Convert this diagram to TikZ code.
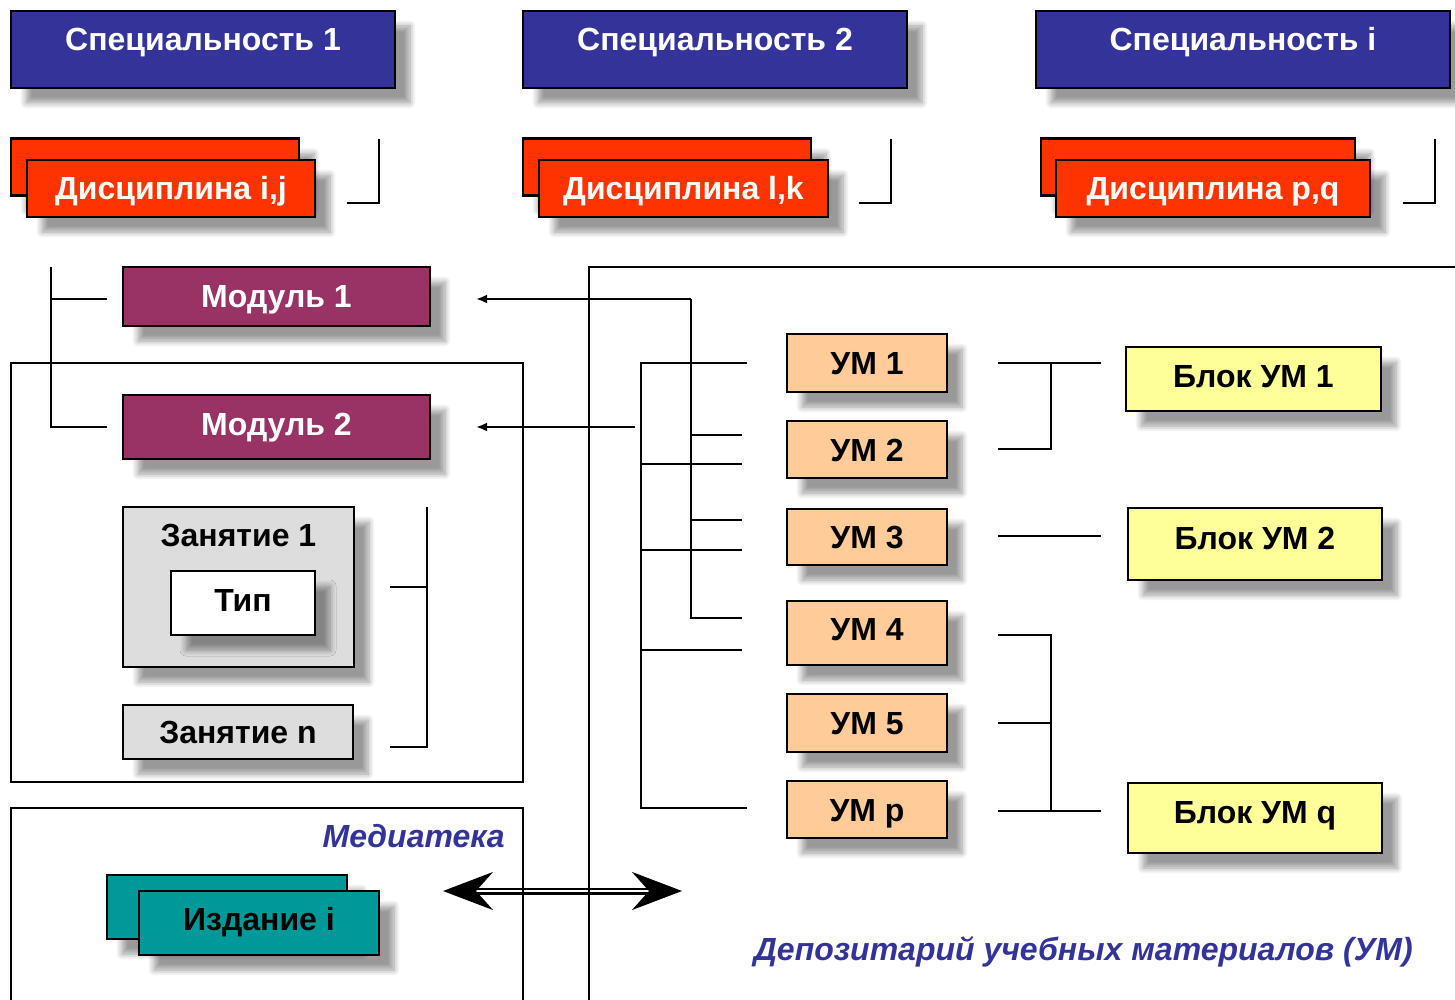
\documentclass[tikz,border=0pt]{standalone}
\usepackage{fontspec}
\setmainfont{Liberation Sans}
\usetikzlibrary{arrows.meta,shadows.blur}
\definecolor{specblue}{HTML}{333399}
\definecolor{discred}{HTML}{FF3300}
\definecolor{modpurple}{HTML}{993366}
\definecolor{lessgray}{HTML}{DDDDDD}
\definecolor{umorange}{HTML}{FFCC99}
\definecolor{blockyellow}{HTML}{FFFF99}
\definecolor{edteal}{HTML}{009999}
\tikzset{
  unitbox/.style={draw, line width=2.2pt, inner sep=0pt,
    font=\fontsize{32}{38}\selectfont\bfseries, text height=23pt, text depth=0pt,
    blur shadow={shadow xshift=15pt, shadow yshift=-15pt,
      shadow blur radius=6pt, shadow blur steps=8}},
  specbox/.style={unitbox, fill=specblue, text=white, minimum height=77pt, text depth=20pt},
  discbox/.style={unitbox, fill=discred, text=white, minimum height=57pt},
  modbox/.style={unitbox, fill=modpurple, text=white, minimum width=307pt},
  lessonbox/.style={unitbox, fill=lessgray},
  umbox/.style={unitbox, fill=umorange, minimum width=160pt},
  blockbox/.style={unitbox, fill=blockyellow, text depth=13pt},
  edbox/.style={unitbox, fill=edteal, minimum width=240pt, minimum height=64pt, text depth=8pt},
  link/.style={line width=2pt},
  arr/.style={link, -{Latex[length=11pt,width=9pt]}, shorten >=45pt},
  exchange/.style={line width=2.5pt, double=white, double distance=2pt,
    {Stealth[length=50pt,width=38pt,inset=17pt]}-{Stealth[length=50pt,width=38pt,inset=17pt]}},
  caption/.style={font=\fontsize{32}{38}\selectfont\bfseries\itshape, text=specblue, inner sep=0pt},
}
\begin{document}
\begin{tikzpicture}[x=1pt, y=-1pt]
  \useasboundingbox (0,0) rectangle (1455,1000);
  % exchange media library <-> depository
  \coordinate (xl) at (443,891);
  \coordinate (xr) at (682,891);
  \draw[exchange] (xl) -- (xr);
  % frames
  \draw[link] (11,363) rectangle (523,782);
  \draw[link] (11,1000) |- (523,808) -- (523,1000);
  \draw[link] (589,1000) |- (1455,267);
  \node[caption, anchor=east] (medtitle) at (505,836) {Медиатека};
  \node[caption, anchor=east] (deptitle) at (1413,952) {Депозитарий учебных материалов (УМ)};
  % specialities
  \node[specbox, minimum width=384pt] (sp1) at (203,49.5) {Специальность 1};
  \node[specbox, minimum width=384pt] (sp2) at (715,49.5) {Специальность 2};
  \node[specbox, minimum width=414pt] (spi) at (1243,49.5) {Специальность i};
  % disciplines, two sheets each
  \node[discbox, minimum width=288pt] (d1b) at (155,167) {};
  \node[discbox, minimum width=288pt] (d1) at (171,188.5) {Дисциплина i,j};
  \node[discbox, minimum width=288pt] (d2b) at (667,167) {};
  \node[discbox, minimum width=289pt] (d2) at (683.5,188.5) {Дисциплина l,k};
  \node[discbox, minimum width=314pt] (d3b) at (1198,167) {};
  \node[discbox, minimum width=314pt] (d3) at (1213,188.5) {Дисциплина p,q};
  \foreach \n/\bx in {1/379, 2/891, 3/1435} {
    \coordinate (dt\n) at (\bx,139);
    \coordinate (dl\n) at (\bx-32,203);
    \draw[link] (dt\n) |- (dl\n);
  }
  % modules
  \node[modbox, minimum height=59pt, text depth=2pt] (m1) at (276.5,296.5) {Модуль 1};
  \node[modbox, minimum height=64pt, text depth=6pt] (m2) at (276.5,427) {Модуль 2};
  \coordinate (mt) at (51,267);
  \coordinate (m1l) at (107,299);
  \coordinate (m2l) at (107,427);
  \draw[link] (mt) |- (m2l);
  \draw[link] (mt |- m1l) -- (m1l);
  % lessons
  \node[lessonbox, minimum width=231pt, minimum height=160pt, text depth=104pt] (l1) at (238.5,587) {Занятие 1};
  \node[unitbox, fill=white, minimum width=144pt, minimum height=64pt, text depth=6pt] (type) at (243,603) {Тип};
  \node[lessonbox, minimum width=230pt, minimum height=54pt] (ln) at (238,732) {Занятие n};
  \coordinate (lt) at (427,507);
  \coordinate (l1r) at (390,587);
  \coordinate (lnr) at (390,747);
  \draw[link] (lt) |- (lnr);
  \draw[link] (lt |- l1r) -- (l1r);
  % editions
  \node[edbox] (e1b) at (227,907) {};
  \node[edbox] (e1) at (259,923) {Издание i};
  % learning materials
  \foreach \n/\y/\h/\d in {1/363/58/0, 2/449.5/57/0, 3/537/56/0, 4/633/64/8, 5/723/58/0, p/809.5/57/0}
    \node[umbox, minimum height=\h, text depth=\d] (um\n) at (867,\y) {УМ \n};
  % tree to module 1
  \coordinate (ta) at (691,299);
  \coordinate (a1) at (742,435);
  \coordinate (a2) at (742,520);
  \coordinate (a3) at (742,618);
  \draw[arr] (ta) -- (m1.east |- ta);
  \draw[link] (ta) |- (a3);
  \foreach \c in {a1,a2}
    \draw[link] (ta |- \c) -- (\c);
  % tree to module 2
  \coordinate (m2r) at (635,427);
  \draw[arr] (m2r) -- (m2.east |- m2r);
  \coordinate (tb) at (641,363);
  \coordinate (b0) at (747,363);
  \coordinate (b1) at (742,464);
  \coordinate (b2) at (742,550);
  \coordinate (b3) at (742,650);
  \coordinate (b4) at (747,808);
  \draw[link] (b0) -- (tb) |- (b4);
  \foreach \c in {b1,b2,b3}
    \draw[link] (tb |- \c) -- (\c);
  % blocks
  \node[blockbox, minimum width=255pt, minimum height=64pt, text depth=6pt] (bl1) at (1253.5,379) {Блок УМ 1};
  \node[blockbox, minimum width=254pt, minimum height=72pt] (bl2) at (1255,544) {Блок УМ 2};
  \node[blockbox, minimum width=254pt, minimum height=70pt] (blq) at (1255,818) {Блок УМ q};
  \coordinate (r1a) at (998,363);
  \coordinate (r1j) at (1051,363);
  \coordinate (r1b) at (1101,363);
  \coordinate (r1c) at (998,449);
  \draw[link] (r1a) -- (r1b);
  \draw[link] (r1j) |- (r1c);
  \coordinate (r2a) at (998,536);
  \coordinate (r2b) at (1101,536);
  \draw[link] (r2a) -- (r2b);
  \coordinate (r3a) at (998,635);
  \coordinate (r3j) at (1051,635);
  \coordinate (r3m) at (998,723);
  \coordinate (r3c) at (998,811);
  \coordinate (r3b) at (1101,811);
  \draw[link] (r3a) -- (r3j) |- (r3c);
  \draw[link] (r3j |- r3c) -- (r3b);
  \draw[link] (r3m) -- (r3j |- r3m);
\end{tikzpicture}
\end{document}
